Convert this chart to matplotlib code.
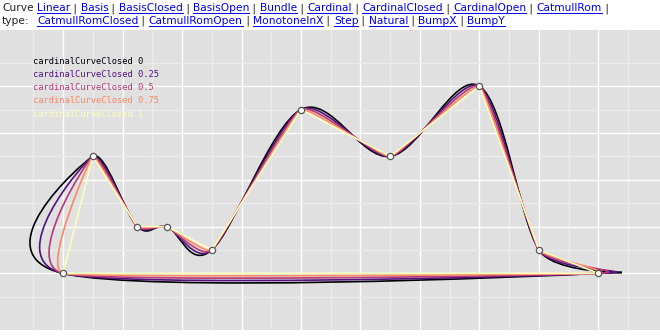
import numpy as np
import matplotlib
matplotlib.use('Agg')
import matplotlib.pyplot as plt
from matplotlib.path import Path
from matplotlib.patches import PathPatch
from matplotlib.lines import Line2D

# data points (grid units)
xs = [0, 1, 2.5, 3.5, 5, 8, 11, 14, 16, 18]
ys = [0, 5, 2, 2, 1, 7, 5, 8, 1, 0]
tensions = [0, 0.25, 0.5, 0.75, 1]

row1 = ['Linear', 'Basis', 'BasisClosed', 'BasisOpen', 'Bundle', 'Cardinal',
        'CardinalClosed', 'CardinalOpen', 'CatmullRom']
row2 = ['CatmullRomClosed', 'CatmullRomOpen', 'MonotoneInX', 'Step', 'Natural',
        'BumpX', 'BumpY']

W, H = 660, 336
fig = plt.figure(figsize=(W / 100, H / 100), dpi=100)

ax = fig.add_axes([0, 6 / H, 1, 300 / H])
ax.set_facecolor('#e0e0e0')
ax.set_xlim(-2.12, 20.07)
ax.set_ylim(-2.42, 10.40)
ax.set_xticks([])
ax.set_yticks([])
for s in ax.spines.values():
    s.set_visible(False)

# grid: major on even, minor on odd
for v in range(-1, 20):
    ax.axvline(v, color='white' if v % 2 == 0 else '#ebebeb', lw=1.0, zorder=0)
for h in range(-1, 10):
    ax.axhline(h, color='white' if h % 2 == 0 else '#ebebeb', lw=1.0, zorder=0)


def cardinal_closed(x, y, tension):
    k = (1 - tension) / 6
    n = len(x)
    verts = [(x[0], y[0])]
    codes = [Path.MOVETO]
    for i in range(n):
        a, b, c, d = (i - 1) % n, i, (i + 1) % n, (i + 2) % n
        verts.append((x[b] + k * (x[c] - x[a]), y[b] + k * (y[c] - y[a])))
        verts.append((x[c] - k * (x[d] - x[b]), y[c] - k * (y[d] - y[b])))
        verts.append((x[c], y[c]))
        codes += [Path.CURVE4] * 3
    return Path(verts, codes)


colors = [plt.cm.magma(float(t)) for t in tensions]
for t, col in zip(tensions, colors):
    ax.add_patch(PathPatch(cardinal_closed(xs, ys, t), fill=False,
                           edgecolor=col, lw=1.2, zorder=2))

ax.plot(xs, ys, 'o', ms=4.5, mfc='white', mec='#555555', mew=0.9, zorder=5)

# legend text
for i, (t, col) in enumerate(zip(tensions, colors)):
    fig.text(33 / W, 1 - (61 + 13.3 * i) / H, 'cardinalCurveClosed %g' % t,
             color=col, family='DejaVu Sans Mono', fontsize=6.3, va='center')

# header with links
fs = 7.7
blue = '#0000ee'
fig.text(2 / W, 1 - 11 / H, 'Curve', fontsize=fs, va='baseline', color='#222222')
fig.text(2 / W, 1 - 24 / H, 'type:', fontsize=fs, va='baseline', color='#222222')
renderer = fig.canvas.get_renderer()


def link_row(names, base, trailing):
    x = 37
    for j, name in enumerate(names):
        t = fig.text(x / W, 1 - base / H, name, fontsize=fs, va='baseline', color=blue)
        bb = t.get_window_extent(renderer)
        fig.add_artist(Line2D([bb.x0 / W, bb.x1 / W], [1 - (base + 1.5) / H] * 2,
                              color=blue, lw=0.7, transform=fig.transFigure))
        x = bb.x1
        if j < len(names) - 1 or trailing:
            s = fig.text(x / W, 1 - base / H, ' | ', fontsize=fs, va='baseline', color='#222222')
            x = s.get_window_extent(renderer).x1


link_row(row1, 11, True)
link_row(row2, 24, False)

fig.savefig('out.png', dpi=100)
